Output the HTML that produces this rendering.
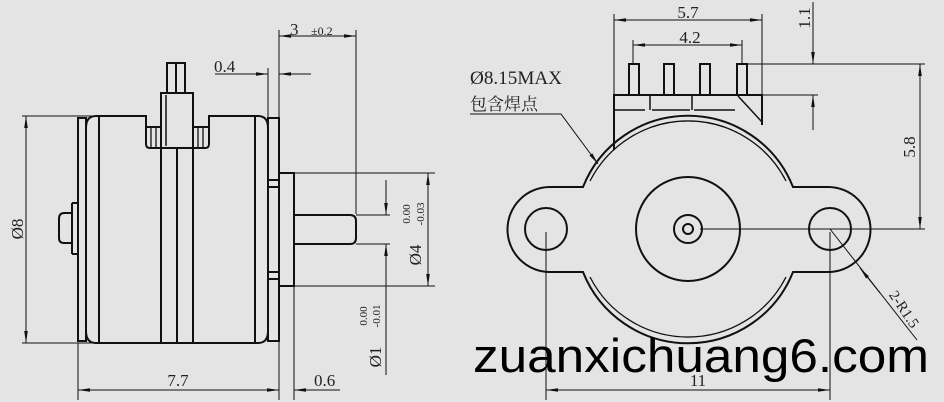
<!DOCTYPE html>
<html><head><meta charset="utf-8"><style>
html,body{margin:0;padding:0;background:#e4e4e4;}
svg{display:block;}
text{font-family:"Liberation Serif","Noto Serif CJK SC",serif;fill:#222;}
text.wm{font-family:"Liberation Sans",sans-serif;fill:#000;}
</style></head><body>
<svg width="944" height="402" viewBox="0 0 944 402" xmlns="http://www.w3.org/2000/svg">
<defs>
<marker id="a" markerWidth="12" markerHeight="6" refX="12" refY="3" orient="auto-start-reverse" markerUnits="userSpaceOnUse"><path d="M0,1.2 L12,3 L0,4.8 Z" fill="#111"/></marker>
</defs>
<rect width="944" height="402" fill="#e4e4e4"/>
<g stroke="#111" fill="none" stroke-width="2">
<rect x="78" y="118" width="8" height="223"/>
<path d="M96,116 L146,116 L146,127 L161,127 M193,127 L209,127 L209,116 L258,116 Q268,116 268,128 L268,331 Q268,343 258,343 L96,343 Q86,343 86,331 L86,128 Q86,116 96,116"/>
<line x1="99" y1="117" x2="99" y2="342"/>
<line x1="255" y1="117" x2="255" y2="342"/>
<path d="M146,127 L146,144 Q146,148 150,148 L162,148 M209,127 L209,144 Q209,148 205,148 L193,148"/>
<path d="M151,128 L151,147 M156,128 L156,147 M198,128 L198,147 M203,128 L203,147" stroke-width="1.3"/>
<rect x="161" y="93" width="32" height="55"/>
<rect x="167" y="63" width="18" height="30"/>
<line x1="176" y1="63" x2="176" y2="93"/>
<line x1="166" y1="95" x2="166" y2="146" stroke-width="1.5"/>
<line x1="161" y1="148" x2="161" y2="343"/>
<line x1="177" y1="148" x2="177" y2="343"/>
<line x1="193" y1="148" x2="193" y2="343"/>
<rect x="268" y="118" width="11" height="223"/>
<rect x="279" y="173" width="15" height="113"/>
<rect x="268" y="180" width="11" height="7"/>
<rect x="268" y="272" width="11" height="7"/>
<path d="M294,215 L350,215 Q356,215 356,221 L356,238 Q356,244 350,244 L294,244"/>
<path d="M72,203 L78,203 M72,254 L78,254 L78,203 M72,203 L72,254"/>
<path d="M72,213 L64,213 Q59,213 59,219 L59,238 Q59,243 64,243 L72,243"/>
<path d="M583,187 A113,113 0 0 1 793,187 L828,187 A42.5,42.5 0 0 1 828,272 L793,272 A113,113 0 0 1 583,272 L550,272 A42.5,42.5 0 0 1 550,187 Z"/>
<path d="M590,181 A110,110 0 0 1 786,181" stroke-width="1.3"/>
<path d="M590,277 A110,110 0 0 0 786,277" stroke-width="1.3"/>
<circle cx="546" cy="229" r="21"/>
<circle cx="830" cy="229" r="21"/>
<circle cx="688" cy="229" r="52"/>
<circle cx="688" cy="229" r="14"/>
<circle cx="688" cy="229" r="5"/>
<rect x="629" y="64" width="10" height="31"/>
<rect x="664" y="64" width="10" height="31"/>
<rect x="700" y="64" width="10" height="31"/>
<rect x="737" y="64" width="10" height="31"/>
<path d="M614,150 L614,95 L762,95 L762,125"/>
<path d="M614,110 L645,110 M650,95 L650,110 M652,110 L690,110 M692,95 L692,110 M694,110 L735,110" stroke-width="1.5"/>
<line x1="738" y1="96" x2="762" y2="122" stroke-width="1.5"/>
</g>
<g stroke="#111" fill="none" stroke-width="1">
<line x1="22" y1="116" x2="92" y2="116"/><line x1="22" y1="343" x2="92" y2="343"/>
<line x1="26" y1="116" x2="26" y2="343" marker-start="url(#a)" marker-end="url(#a)"/>
<line x1="279" y1="30" x2="279" y2="172"/><line x1="356" y1="30" x2="356" y2="214"/>
<line x1="279" y1="36" x2="356" y2="36" marker-start="url(#a)" marker-end="url(#a)"/>
<line x1="268" y1="68" x2="268" y2="118"/>
<line x1="215" y1="74" x2="268" y2="74" marker-end="url(#a)"/>
<line x1="311" y1="74" x2="279" y2="74" marker-end="url(#a)"/>
<line x1="294" y1="173" x2="435" y2="173"/><line x1="294" y1="286" x2="435" y2="286"/>
<line x1="428" y1="173" x2="428" y2="286" marker-start="url(#a)" marker-end="url(#a)"/>
<line x1="356" y1="215" x2="390" y2="215"/><line x1="356" y1="244" x2="390" y2="244"/>
<line x1="386" y1="180" x2="386" y2="215" marker-end="url(#a)"/>
<line x1="386" y1="375" x2="386" y2="244" marker-end="url(#a)"/>
<line x1="78" y1="343" x2="78" y2="400"/><line x1="279" y1="341" x2="279" y2="400"/><line x1="294" y1="286" x2="294" y2="400"/>
<line x1="78" y1="390" x2="279" y2="390" marker-start="url(#a)" marker-end="url(#a)"/>
<line x1="340" y1="390" x2="294" y2="390" marker-end="url(#a)"/>
<line x1="614" y1="14" x2="614" y2="95"/><line x1="762" y1="14" x2="762" y2="95"/>
<line x1="614" y1="20" x2="762" y2="20" marker-start="url(#a)" marker-end="url(#a)"/>
<line x1="633" y1="40" x2="633" y2="64"/><line x1="742" y1="40" x2="742" y2="64"/>
<line x1="633" y1="45" x2="742" y2="45" marker-start="url(#a)" marker-end="url(#a)"/>
<line x1="748" y1="64" x2="925" y2="64"/><line x1="762" y1="95" x2="818" y2="95"/>
<line x1="813" y1="2" x2="813" y2="64" marker-end="url(#a)"/>
<line x1="813" y1="130" x2="813" y2="95" marker-end="url(#a)"/>
<line x1="700" y1="229" x2="925" y2="229"/>
<line x1="920" y1="64" x2="920" y2="229" marker-start="url(#a)" marker-end="url(#a)"/>
<line x1="546" y1="232" x2="546" y2="400"/><line x1="830" y1="232" x2="830" y2="400"/>
<line x1="546" y1="390" x2="830" y2="390" marker-start="url(#a)" marker-end="url(#a)"/>
<line x1="830" y1="229" x2="917" y2="340"/>
<line x1="880" y1="293" x2="860" y2="268" marker-end="url(#a)"/>
<path d="M470,114 L561,114 L598,164" marker-end="url(#a)"/>
</g>
<g font-size="17">
<text x="25" y="229" transform="rotate(-90 25 229)" text-anchor="middle" dy="-2">Ø8</text>
<text x="290" y="35">3</text>
<text x="311" y="35" font-size="12">±0.2</text>
<text x="214" y="72">0.4</text>
<text x="178" y="386" text-anchor="middle">7.7</text>
<text x="314" y="386">0.6</text>
<text x="421" y="255" transform="rotate(-90 421 255)" text-anchor="middle">Ø4</text>
<text x="410" y="214" transform="rotate(-90 410 214)" text-anchor="middle" font-size="11">0.00</text>
<text x="424" y="214" transform="rotate(-90 424 214)" text-anchor="middle" font-size="11">-0.03</text>
<text x="381" y="357" transform="rotate(-90 381 357)" text-anchor="middle">Ø1</text>
<text x="367" y="316" transform="rotate(-90 367 316)" text-anchor="middle" font-size="11">0.00</text>
<text x="380" y="316" transform="rotate(-90 380 316)" text-anchor="middle" font-size="11">-0.01</text>
<text x="688" y="18" text-anchor="middle">5.7</text>
<text x="690" y="43" text-anchor="middle">4.2</text>
<text x="810" y="18" transform="rotate(-90 810 18)" text-anchor="middle">1.1</text>
<text x="915" y="147" transform="rotate(-90 915 147)" text-anchor="middle">5.8</text>
<text x="470" y="84" textLength="92" lengthAdjust="spacingAndGlyphs" font-size="19">Ø8.15MAX</text>
<text x="470" y="110" font-size="17">包含焊点</text>
<text x="900" y="312" transform="rotate(56 900 312)" text-anchor="middle" font-size="15">2-R1.5</text>
<text x="698" y="386" text-anchor="middle">11</text>
</g>
<text class="wm" x="473" y="372" font-size="47" textLength="456" lengthAdjust="spacingAndGlyphs" style="font-family:'Liberation Sans',sans-serif;fill:#000">zuanxichuang6.com</text>
</svg>
</body></html>
